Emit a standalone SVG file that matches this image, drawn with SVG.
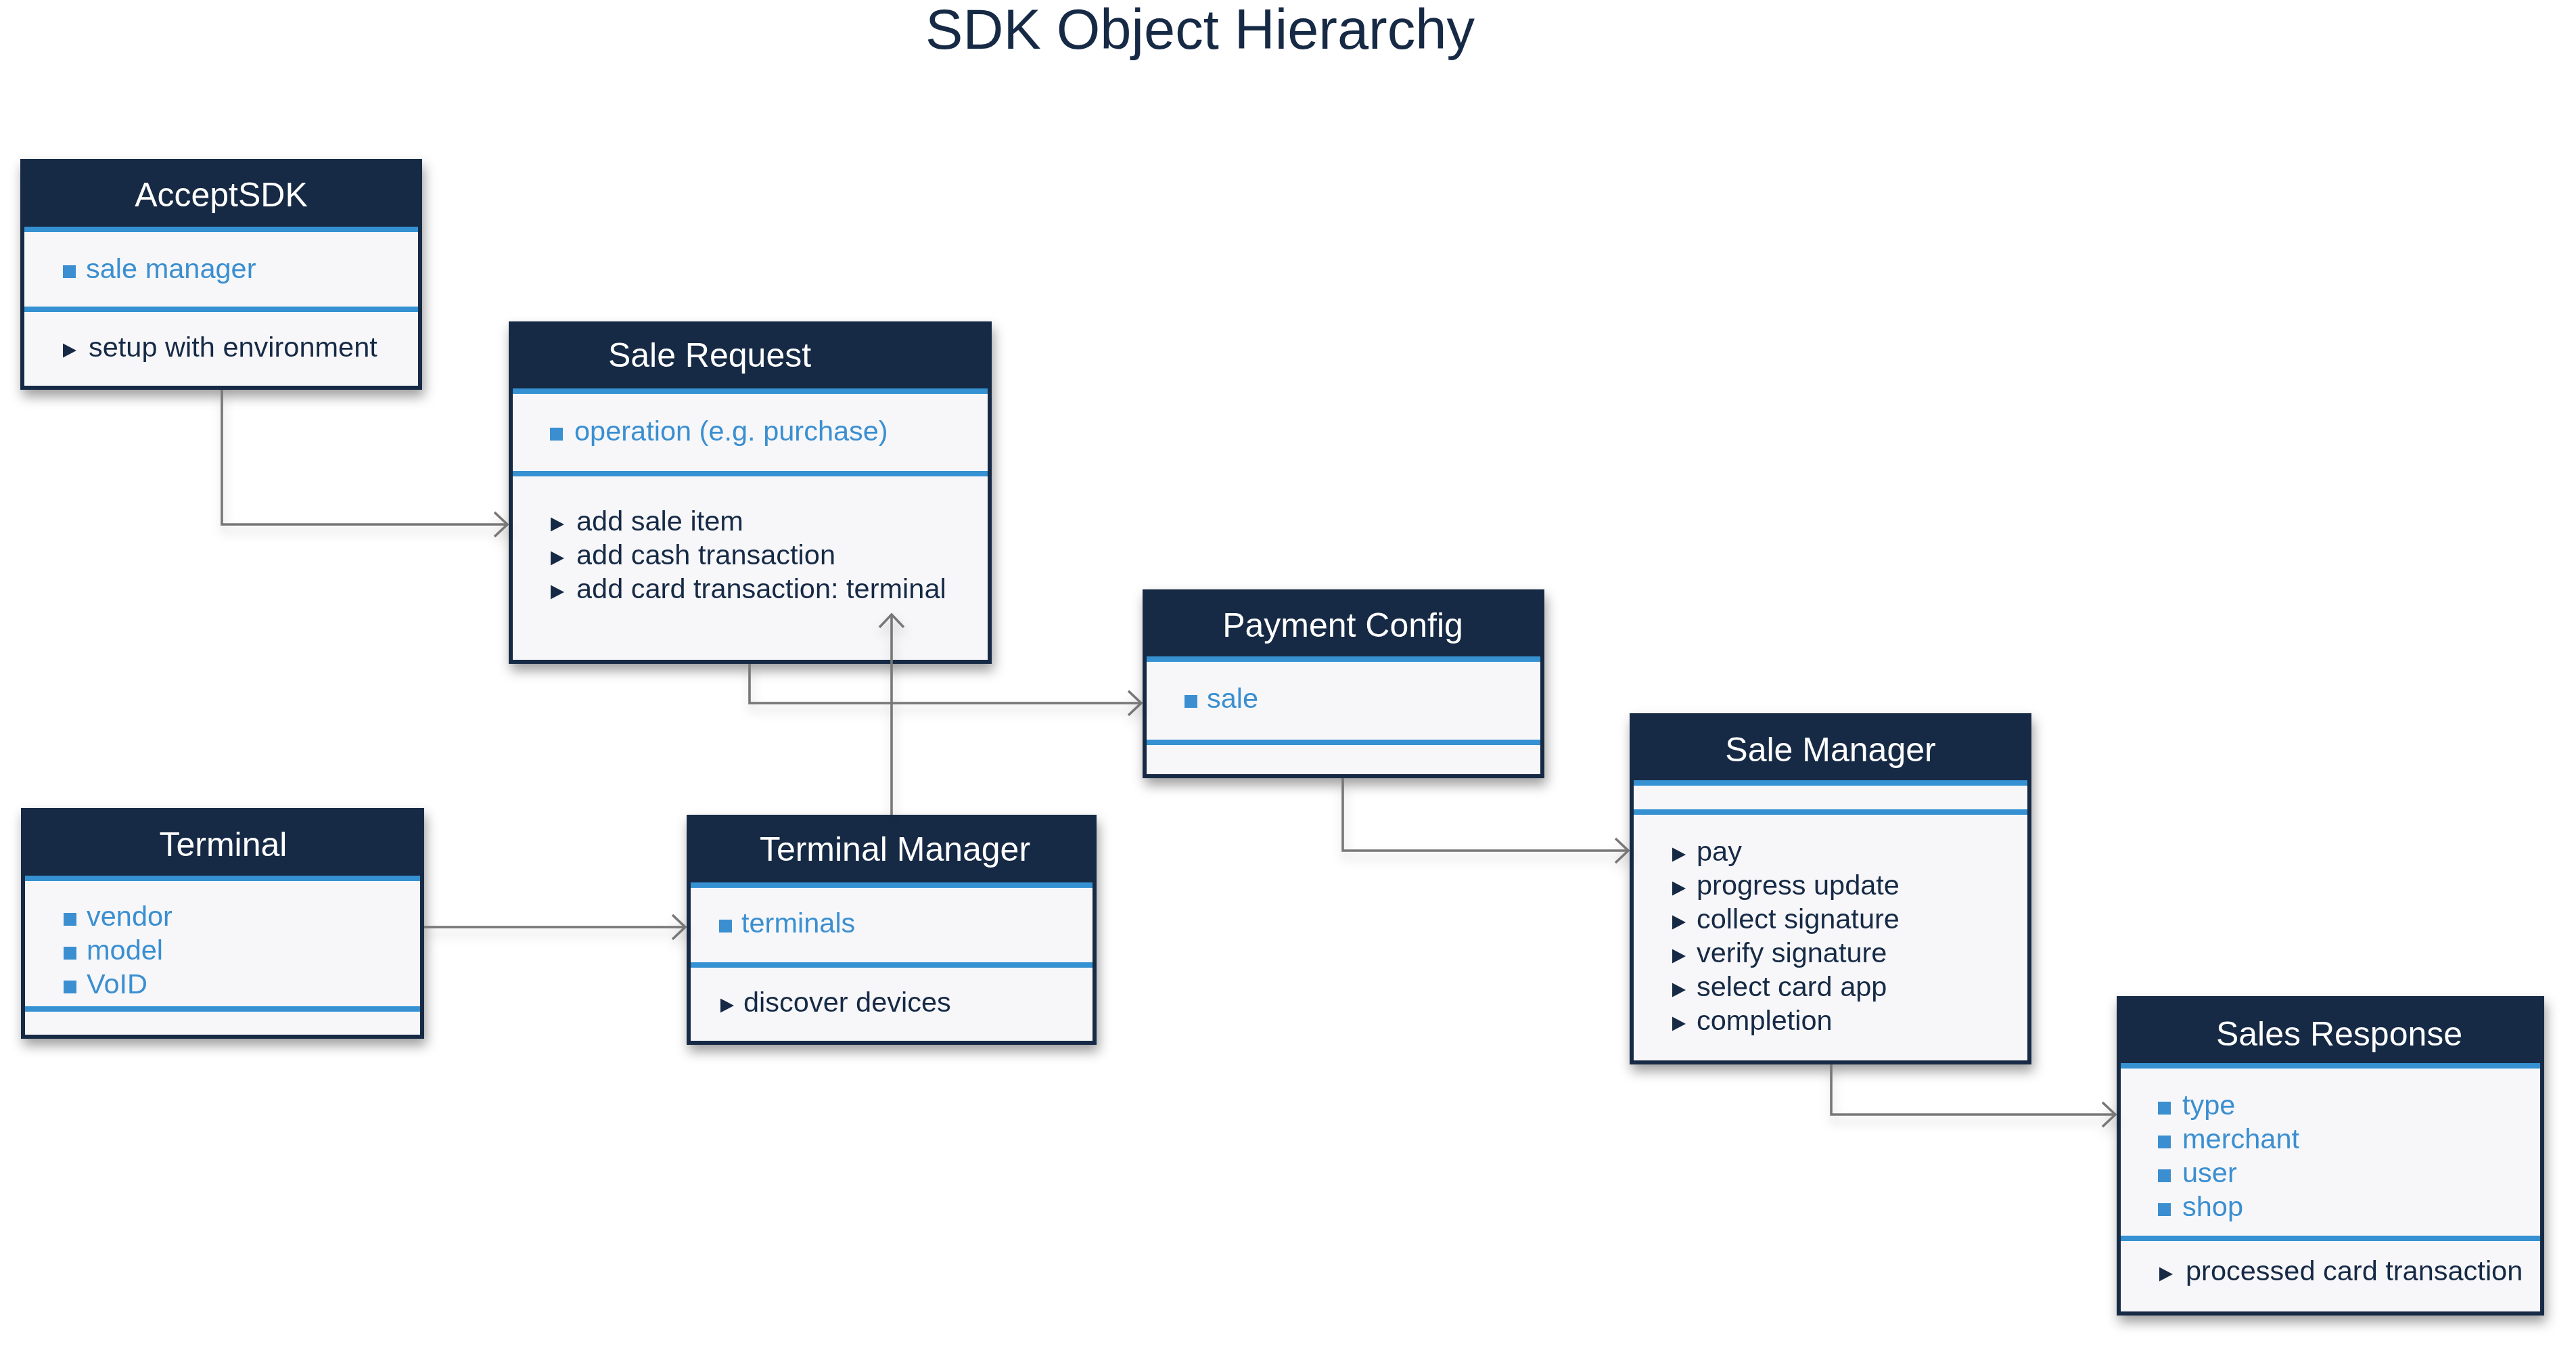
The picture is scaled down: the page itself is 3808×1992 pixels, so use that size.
<svg xmlns="http://www.w3.org/2000/svg" width="3808" height="1992" viewBox="0 0 3808 1992">
<style>
text{font-family:"Liberation Sans",Arial,Helvetica,sans-serif}
.main{font-size:83px;fill:#172a45;text-anchor:middle}
.ttl{font-size:50px;fill:#ffffff;text-anchor:middle}
.att{font-size:41.5px;fill:#3a8fd0}
.mth{font-size:41.5px;fill:#172a45}
.outer{fill:#172a45}
.body{fill:#f7f7fa}
.bar{fill:#3691d1}
.sq{fill:#3a8fd0}
.tri{fill:#172a45}
.conn{fill:none;stroke:#777777;stroke-width:3.6}
</style>
<defs>
<filter id="shadow" x="-10%" y="-10%" width="125%" height="130%">
<feDropShadow dx="3" dy="10" stdDeviation="9" flood-color="#000000" flood-opacity="0.38"/>
</filter>
<filter id="lshadow" x="-5%" y="-20%" width="110%" height="160%">
<feDropShadow dx="2" dy="10" stdDeviation="8" flood-color="#000000" flood-opacity="0.2"/>
</filter>
<marker id="arrow" markerUnits="userSpaceOnUse" markerWidth="44" markerHeight="44" refX="21" refY="20" orient="auto" overflow="visible">
<path d="M1 2 L20 20 L1 38" fill="none" stroke="#777777" stroke-width="3.6"/>
</marker>
<rect id="sqb" x="0" y="-19" width="19" height="19"/>
<polygon id="trib" points="0,-19.5 20,-9 0,1.5"/>
</defs>

<rect width="3808" height="1992" fill="#ffffff"/>
<text class="main" x="1774" y="72">SDK Object Hierarchy</text>

<g id="acceptsdk" filter="url(#shadow)">
<rect class="outer" x="30" y="235" width="594" height="341"/>
<rect class="body" x="36" y="335" width="582" height="235"/>
<rect class="bar" x="36" y="335" width="582" height="8"/>
<rect class="bar" x="36" y="453" width="582" height="8"/>
<text class="ttl" x="327" y="305">AcceptSDK</text>
<use href="#sqb" class="sq" x="93" y="411"/>
<text class="att" x="127" y="411">sale manager</text>
<use href="#trib" class="tri" x="93" y="527"/>
<text class="mth" x="131" y="527">setup with environment</text>
</g>

<g id="sale-request" filter="url(#shadow)">
<rect class="outer" x="752" y="475" width="714" height="506"/>
<rect class="body" x="758" y="574" width="702" height="401"/>
<rect class="bar" x="758" y="574" width="702" height="8"/>
<rect class="bar" x="758" y="696" width="702" height="8"/>
<text class="ttl" x="1049" y="542">Sale Request</text>
<use href="#sqb" class="sq" x="813" y="651"/>
<text class="att" x="849" y="651">operation (e.g. purchase)</text>
<use href="#trib" class="tri" x="814" y="784"/>
<text class="mth" x="852" y="784">add sale item</text>
<use href="#trib" class="tri" x="814" y="834"/>
<text class="mth" x="852" y="834">add cash transaction</text>
<use href="#trib" class="tri" x="814" y="884"/>
<text class="mth" x="852" y="884">add card transaction: terminal</text>
</g>

<g id="terminal" filter="url(#shadow)">
<rect class="outer" x="31" y="1194" width="596" height="341"/>
<rect class="body" x="37" y="1294" width="584" height="235"/>
<rect class="bar" x="37" y="1294" width="584" height="8"/>
<rect class="bar" x="37" y="1487" width="584" height="8"/>
<text class="ttl" x="330" y="1265">Terminal</text>
<use href="#sqb" class="sq" x="94" y="1368"/>
<text class="att" x="128" y="1368">vendor</text>
<use href="#sqb" class="sq" x="94" y="1418"/>
<text class="att" x="128" y="1418">model</text>
<use href="#sqb" class="sq" x="94" y="1468"/>
<text class="att" x="128" y="1468">VoID</text>
</g>

<g id="terminal-manager" filter="url(#shadow)">
<rect class="outer" x="1015" y="1204" width="606" height="340"/>
<rect class="body" x="1021" y="1304" width="594" height="234"/>
<rect class="bar" x="1021" y="1304" width="594" height="8"/>
<rect class="bar" x="1021" y="1422" width="594" height="8"/>
<text class="ttl" x="1323" y="1272">Terminal Manager</text>
<use href="#sqb" class="sq" x="1063" y="1378"/>
<text class="att" x="1096" y="1378">terminals</text>
<use href="#trib" class="tri" x="1065" y="1495"/>
<text class="mth" x="1099" y="1495">discover devices</text>
</g>

<g id="payment-config" filter="url(#shadow)">
<rect class="outer" x="1689" y="871" width="594" height="279"/>
<rect class="body" x="1695" y="970" width="582" height="174"/>
<rect class="bar" x="1695" y="970" width="582" height="8"/>
<rect class="bar" x="1695" y="1093" width="582" height="8"/>
<text class="ttl" x="1985" y="941">Payment Config</text>
<use href="#sqb" class="sq" x="1751" y="1046"/>
<text class="att" x="1784" y="1046">sale</text>
</g>

<g id="sale-manager" filter="url(#shadow)">
<rect class="outer" x="2409" y="1054" width="594" height="519"/>
<rect class="body" x="2415" y="1153" width="582" height="414"/>
<rect class="bar" x="2415" y="1153" width="582" height="8"/>
<rect class="bar" x="2415" y="1196" width="582" height="8"/>
<text class="ttl" x="2706" y="1125">Sale Manager</text>
<use href="#trib" class="tri" x="2472" y="1272"/>
<text class="mth" x="2508" y="1272">pay</text>
<use href="#trib" class="tri" x="2472" y="1322"/>
<text class="mth" x="2508" y="1322">progress update</text>
<use href="#trib" class="tri" x="2472" y="1372"/>
<text class="mth" x="2508" y="1372">collect signature</text>
<use href="#trib" class="tri" x="2472" y="1422"/>
<text class="mth" x="2508" y="1422">verify signature</text>
<use href="#trib" class="tri" x="2472" y="1472"/>
<text class="mth" x="2508" y="1472">select card app</text>
<use href="#trib" class="tri" x="2472" y="1522"/>
<text class="mth" x="2508" y="1522">completion</text>
</g>

<g id="sales-response" filter="url(#shadow)">
<rect class="outer" x="3129" y="1472" width="632" height="472"/>
<rect class="body" x="3135" y="1571" width="620" height="367"/>
<rect class="bar" x="3135" y="1571" width="620" height="8"/>
<rect class="bar" x="3135" y="1826" width="620" height="8"/>
<text class="ttl" x="3458" y="1545">Sales Response</text>
<use href="#sqb" class="sq" x="3190" y="1647"/>
<text class="att" x="3226" y="1647">type</text>
<use href="#sqb" class="sq" x="3190" y="1697"/>
<text class="att" x="3226" y="1697">merchant</text>
<use href="#sqb" class="sq" x="3190" y="1747"/>
<text class="att" x="3226" y="1747">user</text>
<use href="#sqb" class="sq" x="3190" y="1797"/>
<text class="att" x="3226" y="1797">shop</text>
<use href="#trib" class="tri" x="3192" y="1892"/>
<text class="mth" x="3231" y="1892">processed card transaction</text>
</g>

<g id="connectors" filter="url(#lshadow)">
<path class="conn" d="M328 576 V775 H751" marker-end="url(#arrow)"/>
<path class="conn" d="M1108 981 V1039 H1688" marker-end="url(#arrow)"/>
<path class="conn" d="M627 1370 H1014" marker-end="url(#arrow)"/>
<path class="conn" d="M1318 1204 V907" marker-end="url(#arrow)"/>
<path class="conn" d="M1985 1150 V1257 H2408" marker-end="url(#arrow)"/>
<path class="conn" d="M2707 1573 V1647 H3128" marker-end="url(#arrow)"/>
</g>
</svg>
